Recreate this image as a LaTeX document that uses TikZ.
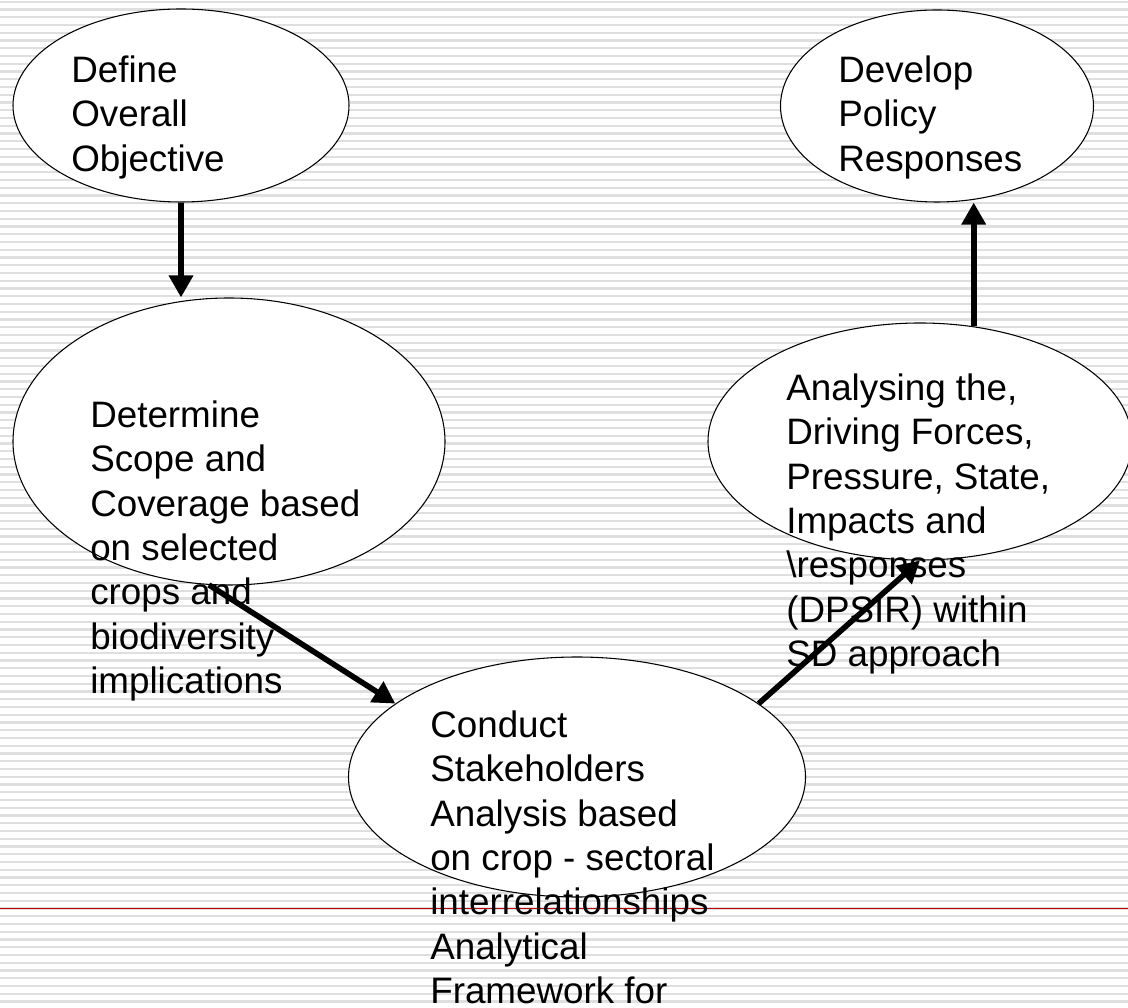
\documentclass[tikz,border=0pt]{standalone}
\usepackage{fontspec}
\setmainfont{Liberation Sans}
\usetikzlibrary{shapes.geometric,arrows.meta}
\newcommand{\ovalstrut}{\rule{0pt}{30pt}}

\begin{document}
\begin{tikzpicture}[x=0.75pt, y=0.75pt, >={Triangle[length=16.5pt,width=17.5pt]}, line join=round,
        stripe/.style={color=gray!25, line width=1.6pt},
        oval/.style={ellipse, draw, fill=white, line width=0.8pt, inner sep=0pt},
        txt/.style={anchor=north west, inner sep=0pt, align=left, font=\fontsize{27.6}{33.3}\selectfont},
        flow/.style={->, line width=4.2pt}]
    \def\W{1128} \def\H{1007}
    \useasboundingbox (0,0) rectangle (\W,\H);
    \clip (0,0) rectangle (\W,\H);
    % ruled background
    \foreach \k in {0,...,129}
        \draw[stripe] (0,{\H-1.75-7.75*\k}) -- (\W,{\H-1.75-7.75*\k});
    \draw[color=red!75!black, line width=0.75pt] (0,99) -- (\W,99);
    % ellipses
    \node[oval, minimum width=252pt, minimum height=144.75pt] (def) at (181,901.5) {};
    \node[oval, minimum width=234.75pt, minimum height=144pt] (dev) at (937,901) {};
    \node[oval, minimum width=324pt, minimum height=215.25pt] (det) at (229,565.5) {};
    \node[oval, minimum width=318pt, minimum height=177.75pt] (ana) at (920,565.5) {};
    \node[oval, minimum width=342.75pt, minimum height=180pt] (con) at (577,230) {};
    % texts
    \node[txt] (defText) at (71,965) {\ovalstrut Define\\Overall\\Objective};
    \node[txt] (devText) at (838,965) {\ovalstrut Develop\\Policy\\Responses};
    \node[txt] (detText) at (90,620) {\ovalstrut Determine\\Scope and\\Coverage based\\on selected\\crops and\\biodiversity\\implications};
    \node[txt] (anaText) at (786,647) {\ovalstrut Analysing the,\\Driving Forces,\\Pressure, State,\\Impacts and\\\textbackslash responses\\(DPSIR) within\\SD approach};
    \node[txt] (conText) at (430,310) {\ovalstrut Conduct\\Stakeholders\\Analysis based\\on crop - sectoral\\interrelationships\\Analytical\\Framework for};
    % arrows
    \draw[flow] (def.south) -- (def.south |- det.north);
    \draw[flow] (det.262) -- (con.158);
    \draw[flow] (con.22) -- (ana.south);
    \draw[flow] (ana.65) -- (ana.65 |- dev.south);
\end{tikzpicture}
\end{document}
